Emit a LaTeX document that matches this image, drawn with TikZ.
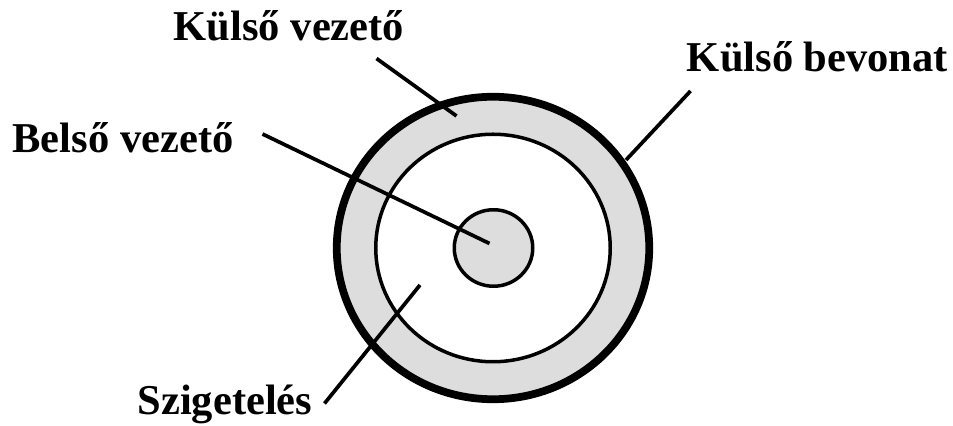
\documentclass[tikz,border=0pt]{standalone}
\usepackage{fontspec}
\setmainfont{Liberation Serif}
\usetikzlibrary{shapes.geometric}
\definecolor{jacketfill}{HTML}{DDDDDD}
\tikzset{
  cablelabel/.style={font=\fontsize{24.2}{28}\selectfont\bfseries, inner sep=0pt, anchor=base},
  leader/.style={line width=0.074cm},
  ring/.style={ellipse, draw, line width=0.07cm, inner sep=0pt},
}
\begin{document}
\begin{tikzpicture}[x=1cm, y=1cm]
  \useasboundingbox (0,0) rectangle (19.06,8.52);
  \fill[white] (0,0) rectangle (19.06,8.52);
  \node[ring, line width=0.155cm, fill=jacketfill, minimum width=6.25cm, minimum height=6.05cm] (outer) at (9.86,3.56) {};
  \node[ring, fill=white, minimum width=4.69cm, minimum height=4.55cm] (insul) at (9.86,3.56) {};
  \node[ring, fill=jacketfill, minimum width=1.57cm, minimum height=1.53cm] (core) at (9.87,3.56) {};
  \node[cablelabel] (kvez) at (5.78,7.71) {Külső vezető};
  \node[cablelabel] (kbev) at (16.35,7.08) {Külső bevonat};
  \node[cablelabel] (bvez) at (2.46,5.47) {Belső vezető};
  \node[cablelabel] (szig) at (4.5,0.22) {Szigetelés};
  \coordinate (kvezstart) at (7.53,7.35);
  \coordinate (kvezend) at (9.13,6.2);
  \coordinate (kbevstart) at (13.81,6.7);
  \coordinate (kbevend) at (12.52,5.32);
  \coordinate (bvezstart) at (5.25,5.84);
  \coordinate (bvezend) at (9.79,3.65);
  \coordinate (szigstart) at (6.49,0.45);
  \coordinate (szigend) at (8.4,2.82);
  \draw[leader] (kvezstart) -- (kvezend);
  \draw[leader] (kbevstart) -- (kbevend);
  \draw[leader] (bvezstart) -- (bvezend);
  \draw[leader] (szigstart) -- (szigend);
\end{tikzpicture}
\end{document}
